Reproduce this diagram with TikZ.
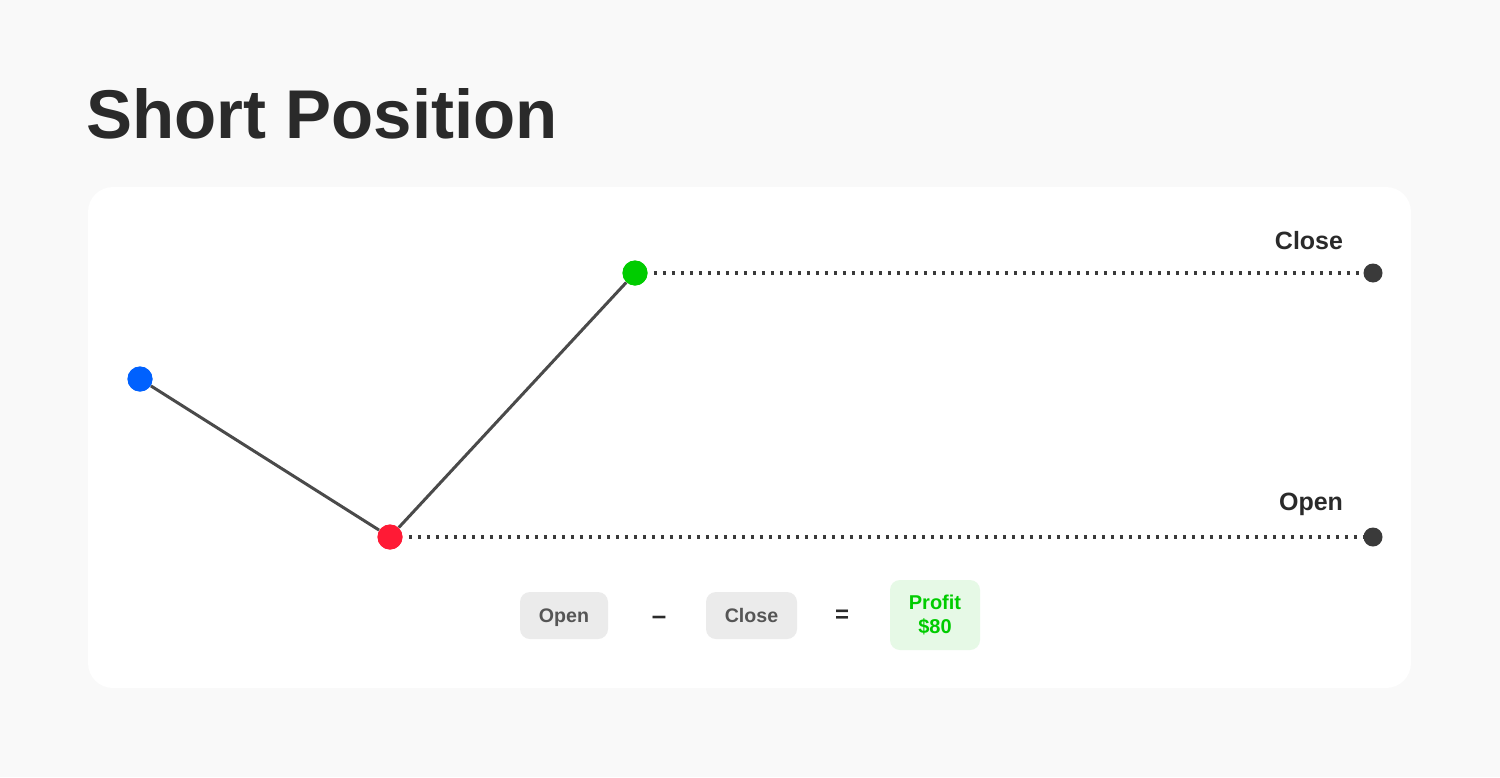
\documentclass[tikz,border=0pt]{standalone}
\usepackage{fontspec}
\setmainfont{Liberation Sans}
\definecolor{bgc}{HTML}{F9F9F9}
\definecolor{ink}{HTML}{2A2A2A}
\definecolor{linec}{HTML}{4A4A4A}
\definecolor{dotc}{HTML}{3A3A3A}
\definecolor{bluec}{HTML}{0061FE}
\definecolor{redc}{HTML}{FF1A35}
\definecolor{greenc}{HTML}{00CC00}
\definecolor{boxc}{HTML}{EBEBEB}
\definecolor{boxtxt}{HTML}{555555}
\definecolor{pboxc}{HTML}{E6F9E6}
\begin{document}
\begin{tikzpicture}[x=0.5pt,y=-0.5pt,
  pt/.style={circle,inner sep=0pt,minimum size=12.5pt},
  endpt/.style={circle,fill=dotc,inner sep=0pt,minimum size=9.5pt},
  seg/.style={draw=linec,line width=1.5pt},
  dots/.style={draw=dotc,line width=1.6pt,dash pattern=on 1.6pt off 2.9pt},
  lbl/.style={font=\bfseries\fontsize{12.5}{15}\selectfont,text=ink},
  gbox/.style={fill=boxc,rounded corners=5pt,minimum width=44pt,minimum height=23.5pt,inner sep=0pt,text height=7.2pt,text depth=0pt,text=boxtxt,font=\bfseries\fontsize{9.8}{12}\selectfont},
  op/.style={text=ink,font=\bfseries\fontsize{12}{14}\selectfont,inner sep=0pt}
]
\fill[bgc] (0,0) rectangle (1500,777);
\useasboundingbox (0,0) rectangle (1500,777);
\fill[white,rounded corners=12.5pt] (88,187) rectangle (1411,688);
\node[anchor=west,inner sep=0pt,text=ink,font=\bfseries\fontsize{34.5}{40}\selectfont] (title) at (86,114) {Short Position};

\node[pt,fill=bluec] (a) at (140,379) {};
\node[pt,fill=redc] (b) at (390,537) {};
\node[pt,fill=greenc] (c) at (635,273) {};
\node[endpt] (cl) at (1373,273) {};
\node[endpt] (ol) at (1373,537) {};

\draw[seg] (a) -- (b);
\draw[seg] (b) -- (c);
\draw[dots] (c.east) ++(6,0) -- (cl.west);
\draw[dots] (b.east) ++(6,0) -- (ol.west);
\node[pt,fill=bluec] at (a) {};
\node[pt,fill=redc] at (b) {};
\node[pt,fill=greenc] at (c) {};

\node[lbl] (closelbl) at (1309,241) {Close};
\node[lbl] (openlbl) at (1311,504) {Open};

\node[gbox] (bopen) at (564,615.5) {Open};
\node[op,font=\bfseries\fontsize{13}{14}\selectfont] (minus) at (659,620) {--};
\node[gbox,minimum width=45.5pt] (bclose) at (751.5,615.5) {Close};
\node[op] (eq) at (842,616) {=};
\node[gbox,fill=pboxc,minimum width=45pt,minimum height=35pt,text height=,text depth=,text=greenc,align=center,font=\bfseries\fontsize{10}{12}\selectfont] (profit) at (935,615) {Profit\\\$80};
\end{tikzpicture}
\end{document}
